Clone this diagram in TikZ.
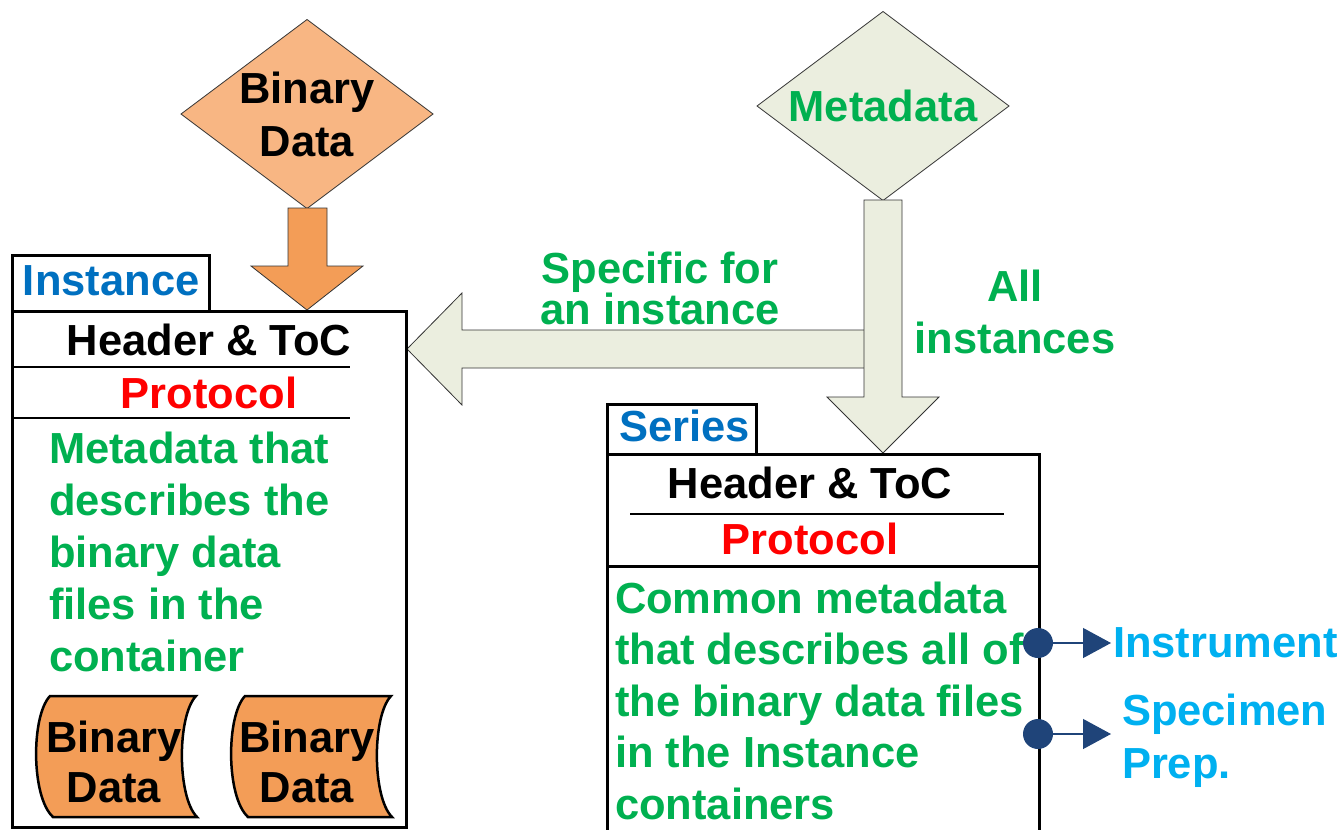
\documentclass[tikz,border=0pt]{standalone}
\usepackage{fontspec}
\setmainfont{Liberation Sans}
\usetikzlibrary{shapes.geometric,arrows.meta}

\definecolor{txtgreen}{HTML}{00B050}
\definecolor{txtblue}{HTML}{0070C0}
\definecolor{txtcyan}{HTML}{00B0F0}
\definecolor{navy}{HTML}{1F4479}
\definecolor{paleorange}{HTML}{F8B683}
\definecolor{deeporange}{HTML}{F39D57}
\definecolor{palegreen}{HTML}{EBEEDF}

\begin{document}
\begin{tikzpicture}[x=1pt,y=-1pt,
  every node/.style={inner sep=0pt,outer sep=0pt,font=\fontsize{43.5}{53}\selectfont\bfseries},
  txt/.style={anchor=base},
  txtl/.style={anchor=base west},
  frame/.style={draw=black,line width=3pt},
  divider/.style={draw=black,line width=1.5pt},
  bigarrow/.style={draw=black!80,line width=0.8pt},
  decision/.style={diamond,draw=black!80,line width=0.8pt,aspect=1.335,
    minimum width=252pt,minimum height=189pt,align=center},
  tape/.style={draw=black,line width=2.5pt,fill=deeporange},
  dot/.style={circle,fill=navy,minimum width=28pt,minimum height=30pt},
  conn/.style={draw=navy,line width=1.2pt,-{Triangle[length=28pt,width=30pt]}},
]
\useasboundingbox (0,0) rectangle (1342,830);

% ---- source diamonds ----
\node[decision,fill=paleorange] (bin) at (307,114) {Binary\\Data};
\node[decision,fill=palegreen,text=txtgreen] (meta) at (883,106) {Metadata};

% ---- orange arrow from the binary data diamond ----
\draw[bigarrow,fill=deeporange] (288,208) -- (327,208) -- (327,266) -- (363,266)
  -- (307,310) -- (251,266) -- (288,266) -- cycle;

% ---- metadata arrows ----
\fill[palegreen] (864,330) -- (462,330) -- (462,293) -- (407,349) -- (462,405)
  -- (462,368) -- (866,368) -- cycle;
\draw[bigarrow] (864,330) -- (462,330) -- (462,293) -- (407,349) -- (462,405)
  -- (462,368) -- (864,368);
\draw[bigarrow,fill=palegreen] (864,200) -- (902,200) -- (902,397) -- (939,397)
  -- (883,453) -- (827,397) -- (864,397) -- cycle;

\node[txt,text=txtgreen] (spec1) at (660,283) {Specific for};
\node[txt,text=txtgreen] (spec2) at (660,324) {an instance};
\node[txt,text=txtgreen] (all1) at (1015,301) {All};
\node[txt,text=txtgreen] (all2) at (1015,353) {instances};

% ---- Instance container ----
\draw[frame,fill=white] (12,255) rectangle (209,311);
\node[txtl,text=txtblue] (instlabel) at (23,295) {Instance};
\draw[frame] (12,311) rectangle (406,827);
\node[txt] (ihead) at (209,355) {Header \& ToC};
\draw[divider] (12,367) -- (350,367);
\node[txt,text=red] (iprot) at (209,408) {Protocol};
\draw[divider] (12,418) -- (350,418);
\foreach \t [count=\i from 0] in {Metadata that,describes the,binary data,files in the,container}
  \node[txtl,text=txtgreen] (idesc\i) at (49,463+52*\i) {\t};

% binary data files held in the instance
\draw[tape] (50,696) -- (196,696) .. controls (177,716) and (177,797) .. (197,817)
  -- (53,817) .. controls (31,797) and (31,716) .. (50,696) -- cycle;
\node[txt] (bd1a) at (114,752) {Binary};
\node[txt] (bd1b) at (114,802) {Data};
\draw[tape] (245,696) -- (391,696) .. controls (372,716) and (372,797) .. (392,817)
  -- (248,817) .. controls (226,797) and (226,716) .. (245,696) -- cycle;
\node[txt] (bd2a) at (307,752) {Binary};
\node[txt] (bd2b) at (307,802) {Data};

% ---- Series container ----
\draw[frame,fill=white] (607,404) rectangle (756,454);
\node[txtl,text=txtblue] (serlabel) at (619,441) {Series};
\draw[frame] (607,832) -- (607,454) -- (1039,454) -- (1039,832);
\node[txt] (shead) at (810,498) {Header \& ToC};
\draw[divider] (630,514) -- (1004,514);
\node[txt,text=red] (sprot) at (810,554) {Protocol};
\draw[frame] (607,566) -- (1039,566);
\foreach \t [count=\i from 0] in {Common metadata,that describes all of,the binary data files,in the Instance,containers}
  \node[txtl,text=txtgreen] (sdesc\i) at (615,613+51.5*\i) {\t};

% ---- links to external records ----
\node[dot] (d1) at (1038,643) {};
\node[dot] (d2) at (1038,734) {};
\coordinate (t1) at (1111,643);
\coordinate (t2) at (1111,734);
\draw[conn] (d1) -- (t1);
\draw[conn] (d2) -- (t2);
\node[txtl,text=txtcyan] (instr) at (1113,657) {Instrument};
\node[txtl,text=txtcyan] (specm) at (1122,725) {Specimen};
\node[txtl,text=txtcyan] (prep) at (1122,778) {Prep.};
\end{tikzpicture}
\end{document}
